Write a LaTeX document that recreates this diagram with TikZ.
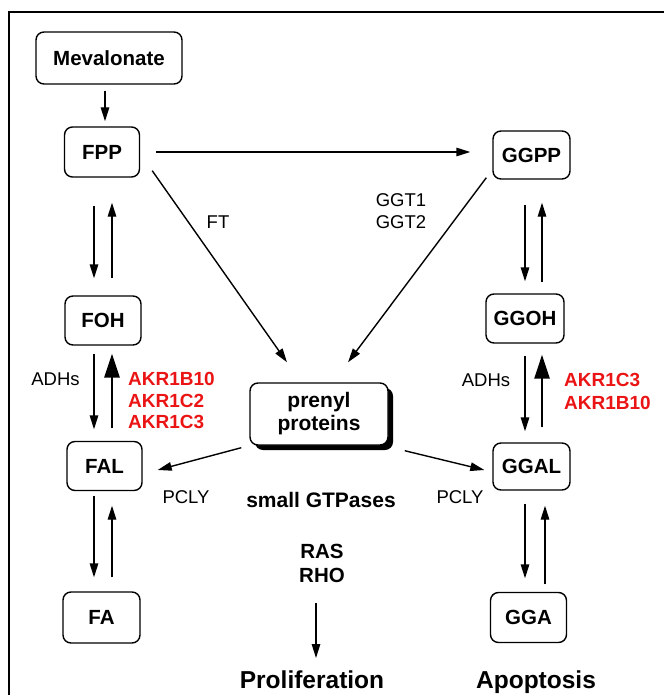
\documentclass[tikz,border=0pt]{standalone}
\usepackage{fontspec}
\setmainfont{Liberation Sans}
\usetikzlibrary{arrows.meta,calc,shadows}
\definecolor{akr}{RGB}{235,20,20}
\begin{document}
\begin{tikzpicture}[x=1pt,y=1pt,
  box/.style={draw,line width=1.4pt,rounded corners=8pt,fill=white,inner sep=0pt,
    font=\fontsize{20.5}{24}\selectfont\bfseries},
  arr/.style={line width=1.4pt,-{Triangle[length=14pt,width=8.5pt]}},
  tarr/.style={line width=2.8pt,-{Triangle[length=24pt,width=15pt]}},
  lbl/.style={inner sep=0pt,anchor=base,font=\fontsize{18.5}{22}\selectfont},
  redlbl/.style={inner sep=0pt,anchor=base west,text=akr,font=\fontsize{19}{22}\selectfont\bfseries},
  blbl/.style={inner sep=0pt,anchor=base,font=\fontsize{21}{24}\selectfont\bfseries},
  biglbl/.style={inner sep=0pt,anchor=base,font=\fontsize{24.5}{28}\selectfont\bfseries}
]
\useasboundingbox (0,0) rectangle (664,-695);
\draw[line width=1.4pt] (9,-695) -- (9,-12) -- (664,-12);

% boxes
\node[box,minimum width=146pt,minimum height=52pt] (mev) at (109,-58) {Mevalonate};
\node[box,minimum width=75pt,minimum height=50pt] (fpp) at (102,-152) {FPP};
\node[box,minimum width=77pt,minimum height=48pt] (ggpp) at (531.5,-155) {GGPP};
\node[box,minimum width=76pt,minimum height=49pt] (foh) at (103,-320.5) {FOH};
\node[box,minimum width=78pt,minimum height=49pt] (ggoh) at (525,-318.5) {GGOH};
\node[box,minimum width=75pt,minimum height=49pt] (fal) at (104.5,-466) {FAL};
\node[box,minimum width=77pt,minimum height=47pt] (ggal) at (531.5,-466.5) {GGAL};
\node[box,minimum width=77pt,minimum height=51pt] (fa) at (101.5,-617.5) {FA};
\node[box,minimum width=76pt,minimum height=50pt] (gga) at (528.5,-617.5) {GGA};
\node[box,minimum width=138pt,minimum height=62pt,align=center,
  font=\fontsize{21}{23}\selectfont\bfseries,
  drop shadow={shadow xshift=5pt,shadow yshift=-5pt,fill=black,opacity=1}]
  (prenyl) at (319,-414) {prenyl\\proteins};

% labels
\node[lbl] (ft) at (218,-228.6) {FT};
\node[lbl] (ggt1) at (401,-206.8) {GGT1};
\node[lbl] (ggt2) at (401,-228.8) {GGT2};
\node[lbl] (adhl) at (55.5,-385.6) {ADHs};
\node[lbl] (adhr) at (486,-386.6) {ADHs};
\node[redlbl] (ra1) at (128,-385.8) {AKR1B10};
\node[redlbl] (ra2) at (128,-407.3) {AKR1C2};
\node[redlbl] (ra3) at (128,-428.8) {AKR1C3};
\node[redlbl] (rb1) at (564,-386.8) {AKR1C3};
\node[redlbl] (rb2) at (564,-409.8) {AKR1B10};
\node[lbl] (pcl) at (186,-503.6) {PCLY};
\node[lbl] (pcr) at (460,-503.6) {PCLY};
\node[blbl] (gtp) at (321,-507) {small GTPases};
\node[blbl,font=\fontsize{20.5}{24}\selectfont\bfseries] (ras) at (322,-558) {RAS};
\node[blbl,font=\fontsize{20.5}{24}\selectfont\bfseries] (rho) at (322,-582) {RHO};
\node[biglbl] (prolif) at (312,-688) {Proliferation};
\node[biglbl] (apop) at (536,-688) {Apoptosis};

% column coordinates
\coordinate (xM) at (105,0);
\coordinate (xL1) at (94,0);
\coordinate (xL2) at (112,0);
\coordinate (xR1) at (525,0);
\coordinate (xR2) at (542,0);
\coordinate (xR3) at (545,0);
\coordinate (xP) at (316,0);

% connectors
\draw[arr] ([yshift=-6pt]mev.south -| xM) -- ([yshift=5pt]fpp.north -| xM);
\draw[arr] ([xshift=16pt]fpp.east) -- ([xshift=-22pt]ggpp.west |- fpp.east);
\draw[arr] ([xshift=12pt,yshift=7pt]fpp.south east) -- ([xshift=-32pt,yshift=20pt]prenyl.north);
\draw[arr] ([xshift=-6pt,yshift=2pt]ggpp.south west) -- ([xshift=29pt,yshift=20pt]prenyl.north);
\draw[arr] ([xshift=-8pt,yshift=-2pt]prenyl.south west) -- ([xshift=15pt,yshift=-4pt]fal.east);
\draw[arr] ([xshift=16pt,yshift=-5pt]prenyl.south east) -- ([xshift=-8pt,yshift=-3.5pt]ggal.west);
\draw[arr] ([yshift=-21pt]rho.base -| xP) -- ([yshift=30pt]prolif.base -| xP);

% left column
\draw[arr] ([yshift=-28pt]fpp.south -| xL1) -- ([yshift=17pt]foh.north -| xL1);
\draw[arr] ([yshift=17pt]foh.north -| xL2) -- ([yshift=-25pt]fpp.south -| xL2);
\draw[arr] ([yshift=-8pt]foh.south -| xL1) -- ([yshift=11.5pt]fal.north -| xL1);
\draw[tarr] ([yshift=12.5pt]fal.north -| xL2) -- ([yshift=-8pt]foh.south -| xL2);
\draw[arr] ([yshift=-4.5pt]fal.south -| xL1) -- ([yshift=14pt]fa.north -| xL1);
\draw[arr] ([yshift=14pt]fa.north -| xL2) -- ([yshift=-14.5pt]fal.south -| xL2);

% right column
\draw[arr] ([yshift=-25pt]ggpp.south -| xR1) -- ([yshift=12pt]ggoh.north -| xR1);
\draw[arr] ([yshift=11pt]ggoh.north -| xR2) -- ([yshift=-23pt]ggpp.south -| xR2);
\draw[arr] ([yshift=-12pt]ggoh.south -| xR1) -- ([yshift=11pt]ggal.north -| xR1);
\draw[tarr] ([yshift=15pt]ggal.north -| xR2) -- ([yshift=-11pt]ggoh.south -| xR2);
\draw[arr] ([yshift=-13pt]ggal.south -| xR1) -- ([yshift=13.5pt]gga.north -| xR1);
\draw[arr] ([yshift=7.5pt]gga.north -| xR3) -- ([yshift=-15pt]ggal.south -| xR3);
\end{tikzpicture}
\end{document}
